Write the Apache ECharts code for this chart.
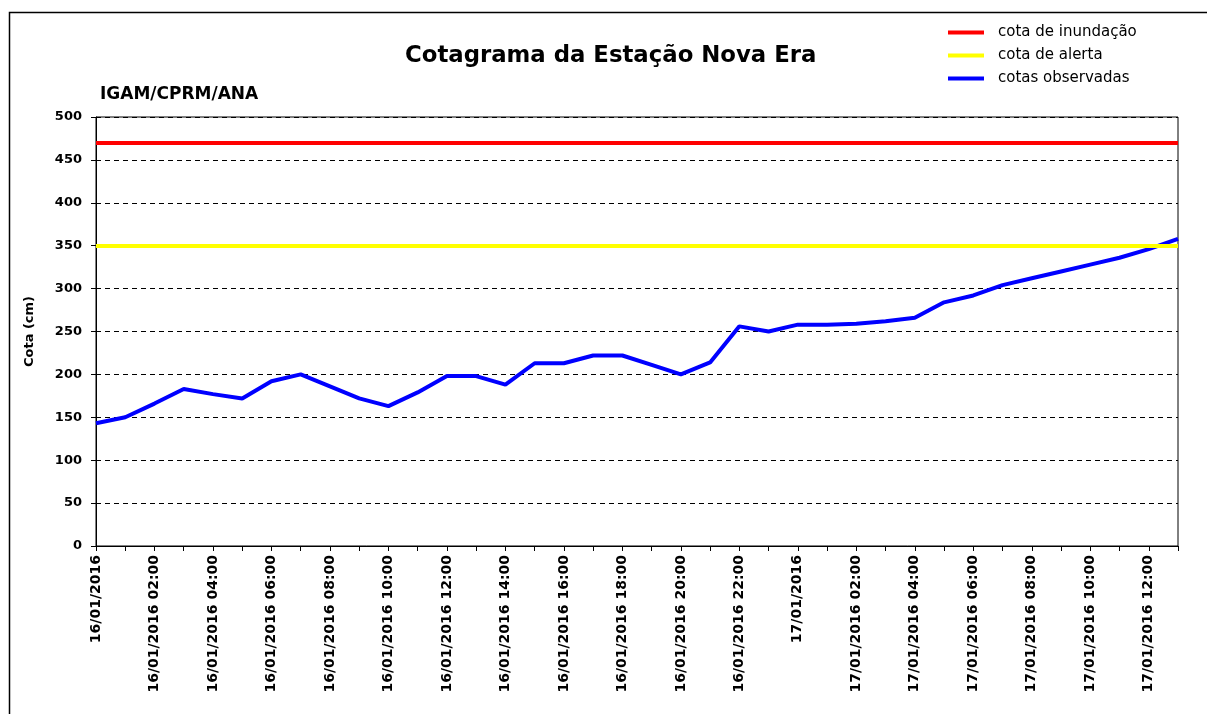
<!DOCTYPE html>
<html>
<head>
<meta charset="utf-8">
<script src="https://cdn.jsdelivr.net/npm/echarts@6/dist/echarts.min.js"></script>
<style>
html,body{margin:0;padding:0;background:#fff;}
#chart{width:1207px;height:714px;}
</style>
</head>
<body>
<div id="chart"></div>
<script>
const categories = [
  '16/01/2016 00:00','16/01/2016 01:00','16/01/2016 02:00','16/01/2016 03:00',
  '16/01/2016 04:00','16/01/2016 05:00','16/01/2016 06:00','16/01/2016 07:00',
  '16/01/2016 08:00','16/01/2016 09:00','16/01/2016 10:00','16/01/2016 11:00',
  '16/01/2016 12:00','16/01/2016 13:00','16/01/2016 14:00','16/01/2016 15:00',
  '16/01/2016 16:00','16/01/2016 17:00','16/01/2016 18:00','16/01/2016 19:00',
  '16/01/2016 20:00','16/01/2016 21:00','16/01/2016 22:00','16/01/2016 23:00',
  '17/01/2016 00:00','17/01/2016 01:00','17/01/2016 02:00','17/01/2016 03:00',
  '17/01/2016 04:00','17/01/2016 05:00','17/01/2016 06:00','17/01/2016 07:00',
  '17/01/2016 08:00','17/01/2016 09:00','17/01/2016 10:00','17/01/2016 11:00',
  '17/01/2016 12:00','17/01/2016 13:00'
];
const cotasObservadas = [
  143,150,166,183,177,172,192,200,186,172,
  163,179,198,198,188,213,213,222,222,211,
  200,214,256,250,258,258,259,262,266,284,
  292,304,312,320,328,336,346,358
];
const cotaInundacao = 470;
const cotaAlerta = 350;
const yTicks = {min:0, max:500, interval:50};
const seriesNames = ['cota de inundação','cota de alerta','cotas observadas'];

const chart = echarts.init(document.getElementById('chart'), null, {renderer:'canvas'});
const F = 'DejaVu Sans';
chart.setOption({
  backgroundColor:'#fff',
  animation:false,
  graphic:[
    {type:'rect', shape:{x:9.5,y:12.5,width:1300,height:800}, style:{fill:'none',stroke:'#000',lineWidth:1.5}, silent:true},
    {type:'text', left:405, top:45, style:{text:'Cotagrama da Estação Nova Era', font:'bold 22.8px "DejaVu Sans"', fill:'#000'}},
    {type:'text', left:100, top:86, style:{text:'IGAM/CPRM/ANA', font:'bold 17px "DejaVu Sans"', fill:'#000'}}
  ],
  legend:{
    orient:'vertical', left:943, top:20,
    itemWidth:36, itemHeight:4, itemGap:8,
    icon:'rect',
    textStyle:{fontFamily:F, fontSize:15, color:'#000', padding:[0,0,0,9]},
    data:seriesNames
  },
  grid:{left:96, right:29, top:117, bottom:168, show:true, borderColor:'#000', borderWidth:1},
  xAxis:{
    type:'category', data:categories, boundaryGap:false,
    axisLine:{lineStyle:{color:'#000',width:1}},
    axisTick:{show:true, interval:0, length:5, lineStyle:{color:'#000'}},
    axisLabel:{
      rotate:90, margin:9, color:'#000', fontFamily:F, fontWeight:'bold', fontSize:14,
      interval:0,
      formatter:function(v, i){
        if(i % 2 !== 0) return '';
        if(v.endsWith('00:00')) return v.slice(0,10);
        return v;
      }
    },
    splitLine:{show:false}
  },
  yAxis:{
    type:'value', min:yTicks.min, max:yTicks.max, interval:yTicks.interval,
    name:'Cota (cm)', nameLocation:'middle', nameGap:60, nameRotate:90,
    nameTextStyle:{fontFamily:F, fontWeight:'bold', fontSize:13, color:'#000'},
    axisLine:{show:true, lineStyle:{color:'#000',width:1}},
    axisTick:{show:true, length:5, lineStyle:{color:'#000'}},
    axisLabel:{color:'#000', fontFamily:F, fontWeight:'bold', fontSize:13, margin:14},
    splitLine:{show:true, lineStyle:{color:'#000', type:[5,4], width:1}}
  },
  series:[
    {name:seriesNames[2], type:'line', data:cotasObservadas, showSymbol:false, symbol:'none',
     lineStyle:{color:'#0000ff', width:4}, itemStyle:{color:'#0000ff'}, z:2},
    {name:seriesNames[0], type:'line', data:[], symbol:'none',
     lineStyle:{color:'#ff0000', width:4}, itemStyle:{color:'#ff0000'}, z:3,
     markLine:{silent:true, symbol:'none', label:{show:false}, z:3,
       lineStyle:{color:'#ff0000', width:4, type:'solid'}, data:[{yAxis:cotaInundacao}]}},
    {name:seriesNames[1], type:'line', data:[], symbol:'none',
     lineStyle:{color:'#ffff00', width:4}, itemStyle:{color:'#ffff00'}, z:3,
     markLine:{silent:true, symbol:'none', label:{show:false}, z:3,
       lineStyle:{color:'#ffff00', width:4, type:'solid'}, data:[{yAxis:cotaAlerta}]}}
  ]
});
</script>
</body>
</html>
